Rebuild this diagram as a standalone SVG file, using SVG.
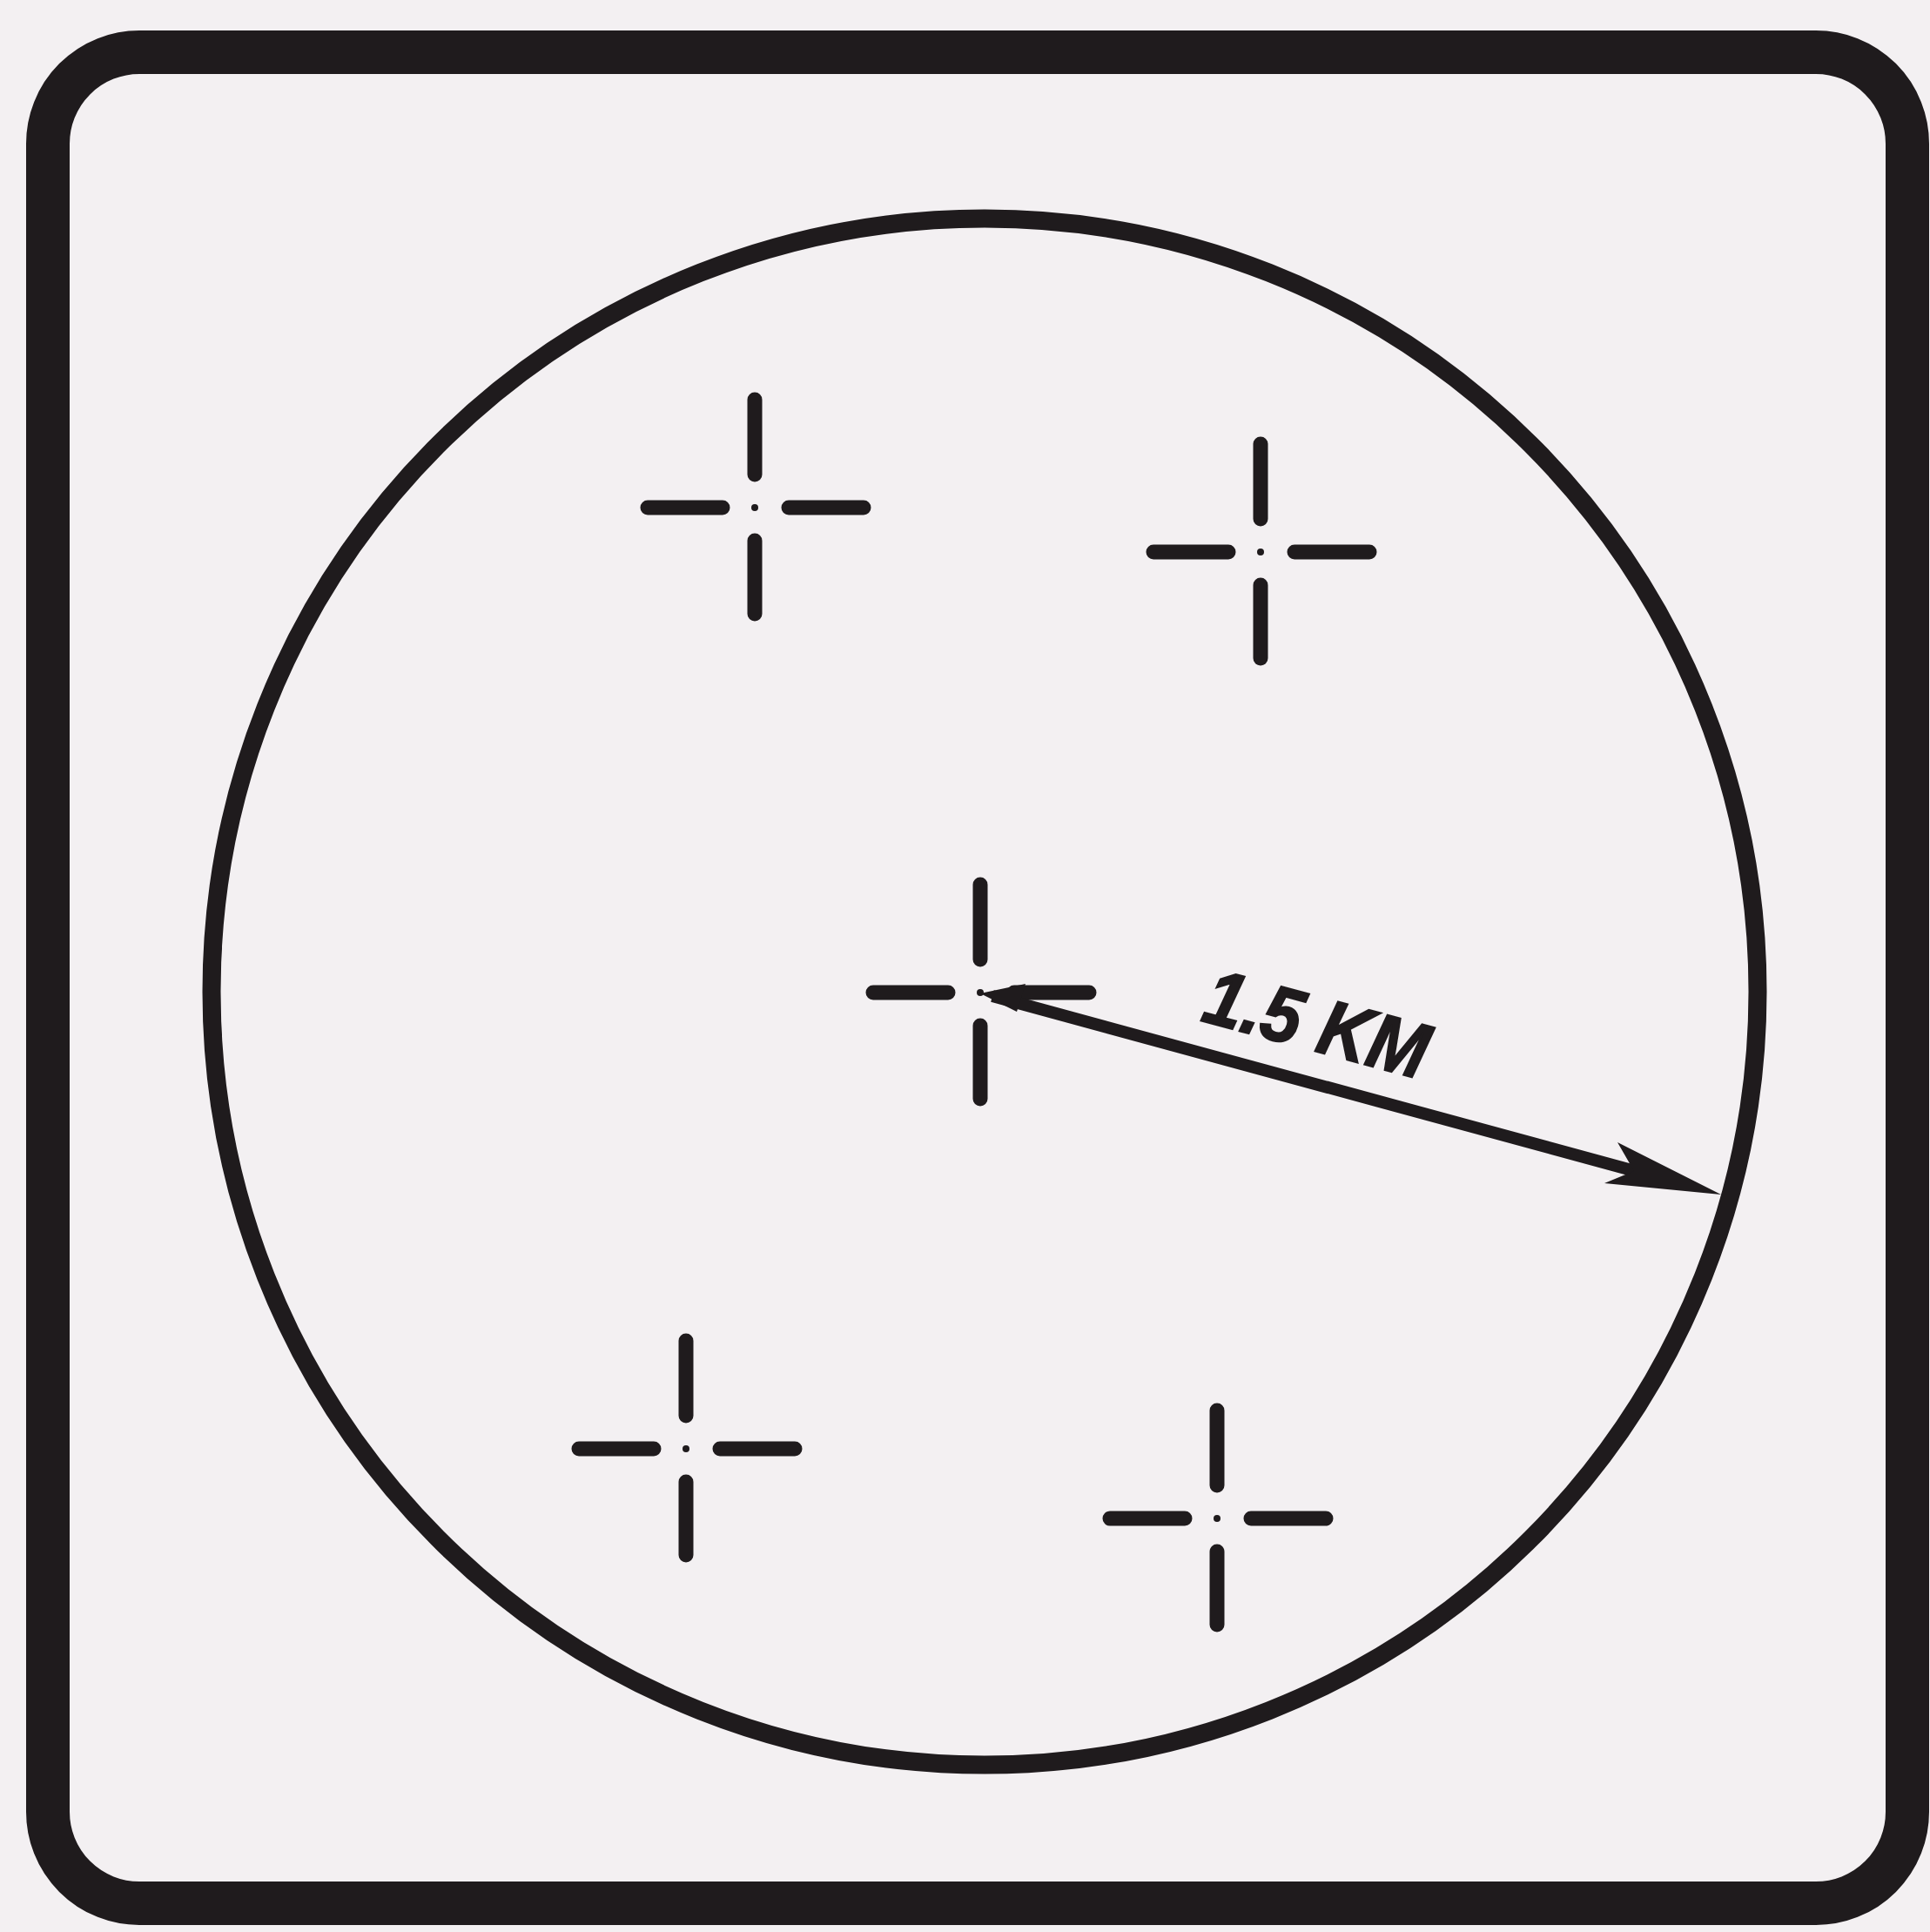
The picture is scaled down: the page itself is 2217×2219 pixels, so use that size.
<svg xmlns="http://www.w3.org/2000/svg" width="2217" height="2219" viewBox="0 0 2217 2219">
  <style>
    .ink { stroke: #1f1b1d; fill: none; }
    .arm { stroke: #1f1b1d; stroke-width: 17; stroke-linecap: round; }
    .dot { fill: #1f1b1d; }
    .lbl { font-family: "Liberation Sans", Arial, sans-serif; font-weight: bold; font-style: italic; font-size: 90px; fill: #1f1b1d; stroke: #1f1b1d; stroke-width: 2; }
  </style>
  <defs>
    <g id="cross">
      <line class="arm" x1="0" y1="-124" x2="0" y2="-38"/>
      <line class="arm" x1="0" y1="38" x2="0" y2="122"/>
      <line class="arm" x1="-123" y1="0" x2="-37" y2="0"/>
      <line class="arm" x1="39" y1="0" x2="125" y2="0"/>
      <circle class="dot" cx="0" cy="0" r="4"/>
    </g>
  </defs>
  <rect x="0" y="0" width="2217" height="2219" fill="#f3f0f2"/>
  <g id="frame">
    <rect class="ink" x="55" y="60" width="2136" height="2126" rx="105" ry="105" stroke-width="50"/>
  </g>
  <g id="range-circle">
    <circle class="ink" cx="1131" cy="1139" r="888" stroke-width="21"/>
  </g>
  <g id="site-1"><use href="#cross" x="867" y="583"/></g>
  <g id="site-2"><use href="#cross" x="1448" y="634"/></g>
  <g id="site-center"><use href="#cross" x="1126" y="1140"/></g>
  <g id="site-4"><use href="#cross" x="788" y="1664"/></g>
  <g id="site-5"><use href="#cross" x="1398" y="1744"/></g>
  <g id="connectors">
    <line class="ink" x1="1140" y1="1144" x2="1900" y2="1351" stroke-width="14"/>
    <polygon points="1977,1372 1858,1312 1877,1345 1843,1359" fill="#1f1b1d"/>
    <polygon points="1126,1141 1178,1130 1168,1162" fill="#1f1b1d"/>
  </g>
  <g id="label">
    <text class="lbl" x="1378" y="1172" transform="rotate(15 1378 1172)" textLength="262" lengthAdjust="spacingAndGlyphs">1.5 KM</text>
  </g>
</svg>
